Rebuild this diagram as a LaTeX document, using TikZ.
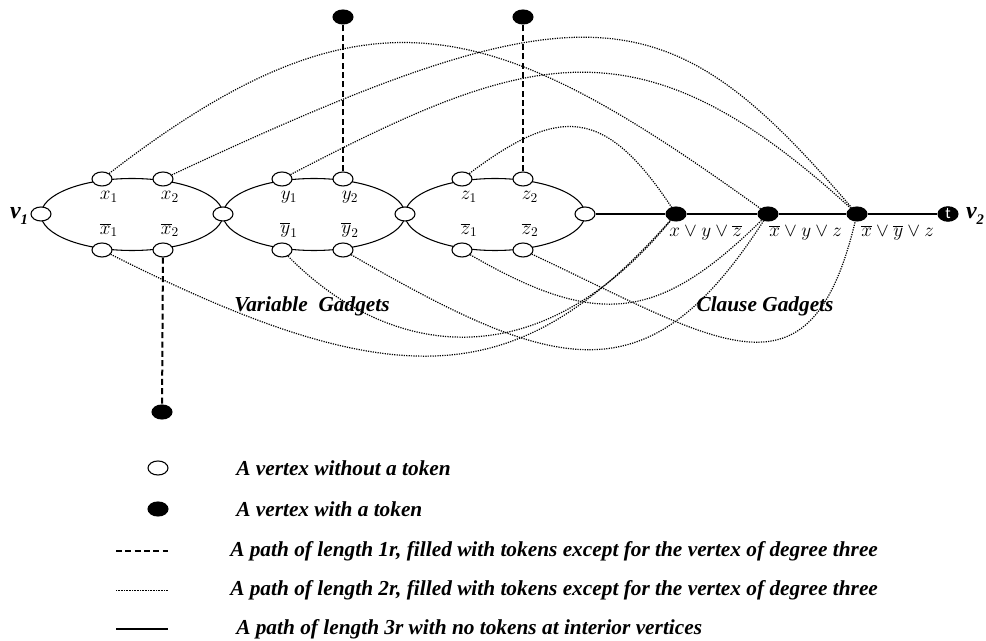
\documentclass[tikz,border=0pt]{standalone}
\usepackage{fontspec}
\setmainfont{Liberation Serif}
\newfontfamily\tfont{Carlito}
\usetikzlibrary{shapes.geometric}

\begin{document}
\begin{tikzpicture}[x=0.75pt,y=-0.75pt,
  vtx/.style={draw,ellipse,fill=white,minimum width=15pt,minimum height=10.5pt,inner sep=0pt,line width=0.8pt},
  tok/.style={vtx,fill=black},
  pathone/.style={line width=1.5pt,dash pattern=on 4.5pt off 2.5pt},
  pathtwo/.style={line width=0.9pt,dash pattern=on 0.9pt off 0.9pt},
  paththree/.style={line width=0.8pt},
  lit/.style={font=\fontsize{14.5}{14.5}\selectfont,inner sep=0pt},
  gad/.style={font=\fontsize{16}{16}\selectfont\bfseries\itshape},
  leg/.style={font=\fontsize{16}{16}\selectfont\bfseries\itshape,anchor=west,inner sep=0pt}]
\useasboundingbox (0,0) rectangle (986,641);

% variable gadgets
\draw[paththree] (132,214.5) ellipse [x radius=91,y radius=36];
\draw[paththree] (314,214.5) ellipse [x radius=91,y radius=36];
\draw[paththree] (495,214.5) ellipse [x radius=90,y radius=36];

\node[vtx] (v1) at (41,214) {};
\node[vtx] (j12) at (223,214) {};
\node[vtx] (j23) at (405,214) {};
\node[vtx] (out) at (585,214) {};
\node[vtx] (x1) at (102,179) {};
\node[vtx] (x2) at (163,179) {};
\node[vtx] (nx1) at (102,250) {};
\node[vtx] (nx2) at (163,250) {};
\node[vtx] (y1) at (282,179) {};
\node[vtx] (y2) at (343,179) {};
\node[vtx] (ny1) at (282,250) {};
\node[vtx] (ny2) at (343,250) {};
\node[vtx] (z1) at (462,179) {};
\node[vtx] (z2) at (523,179) {};
\node[vtx] (nz1) at (462,250) {};
\node[vtx] (nz2) at (523,250) {};

% clause gadgets
\node[tok] (c1) at (676,214) {};
\node[tok] (c2) at (768,214) {};
\node[tok] (c3) at (857,214) {};
\node[tok,text=white,font=\tfont\fontsize{12}{12}\selectfont] (tn) at (948,214) {t};
\draw[paththree] (out) -- (c1) -- (c2) -- (c3) -- (tn);

% pendant paths
\node[tok] (toky) at (343,17) {};
\node[tok] (tokz) at (523,17) {};
\node[tok] (tokx) at (162,412) {};
\draw[pathone] (y2) -- (toky);
\draw[pathone] (z2) -- (tokz);
\draw[pathone] (nx2) -- (tokx);

% literal-clause paths
\draw[pathtwo] (x1) .. controls (369,-27) and (494,17) .. (c2);
\draw[pathtwo] (x2) .. controls (589,-20) and (668,-7) .. (c3);
\draw[pathtwo] (y1) .. controls (530,50) and (640,15) .. (c3);
\draw[pathtwo] (z1) .. controls (558,107) and (604,105) .. (c1);
\draw[pathtwo] (nx1) .. controls (400,400) and (520,390) .. (c1);
\draw[pathtwo] (ny1) .. controls (390,360) and (540,380) .. (c1);
\draw[pathtwo] (ny2) .. controls (560,376) and (649,398) .. (c2);
\draw[pathtwo] (nz1) .. controls (600,330) and (660,320) .. (c2);
\draw[pathtwo] (nz2) .. controls (721,343) and (810,410) .. (c3);

% labels
\node[font=\fontsize{18}{18}\selectfont\bfseries\itshape] (lv1) at (19,216) {v\raisebox{-0.5ex}{\fontsize{11}{11}\selectfont 1}};
\node[font=\fontsize{18}{18}\selectfont\bfseries\itshape] (lv2) at (975,216) {v\raisebox{-0.5ex}{\fontsize{11}{11}\selectfont 2}};
\node[lit] (lx1) at (109,197) {$x_1$};
\node[lit] (lx2) at (170,197) {$x_2$};
\node[lit] (lnx1) at (109,230) {$\overline{x}_1$};
\node[lit] (lnx2) at (170,230) {$\overline{x}_2$};
\node[lit] (ly1) at (289,197) {$y_1$};
\node[lit] (ly2) at (350,197) {$y_2$};
\node[lit] (lny1) at (289,230) {$\overline{y}_1$};
\node[lit] (lny2) at (350,230) {$\overline{y}_2$};
\node[lit] (lz1) at (469,197) {$z_1$};
\node[lit] (lz2) at (530,197) {$z_2$};
\node[lit] (lnz1) at (469,230) {$\overline{z}_1$};
\node[lit] (lnz2) at (530,230) {$\overline{z}_2$};
\node[lit,anchor=west] (lc1) at (669,233) {$x\vee y\vee \overline{z}$};
\node[lit,anchor=west] (lc2) at (769,233) {$\overline{x}\vee y\vee z$};
\node[lit,anchor=west] (lc3) at (861,233) {$\overline{x}\vee \overline{y}\vee z$};
\node[gad] (vg) at (312,306) {Variable\ \ Gadgets};
\node[gad] (cg) at (765,306) {Clause Gadgets};

% legend
\node[vtx] (lw) at (158,468) {};
\node[leg] (lwt) at (236,468) {A vertex without a token};
\node[tok] (lb) at (158,509) {};
\node[leg] (lbt) at (236,509) {A vertex with a token};
\coordinate (l1a) at (116,551);
\coordinate (l1b) at (168,551);
\draw[pathone] (l1a) -- (l1b);
\node[leg] (l1t) at (230,551) {A path of length 1r, filled with tokens except for the vertex of degree three};
\coordinate (l2a) at (116,590);
\coordinate (l2b) at (168,590);
\draw[line width=0.6pt,dash pattern=on 0.6pt off 0.6pt] (l2a) -- (l2b);
\node[leg] (l2t) at (230,590) {A path of length 2r, filled with tokens except for the vertex of degree three};
\coordinate (l3a) at (116,629);
\coordinate (l3b) at (168,629);
\draw[line width=1.5pt] (l3a) -- (l3b);
\node[leg] (l3t) at (236,629) {A path of length 3r with no tokens at interior vertices};
\end{tikzpicture}
\end{document}
